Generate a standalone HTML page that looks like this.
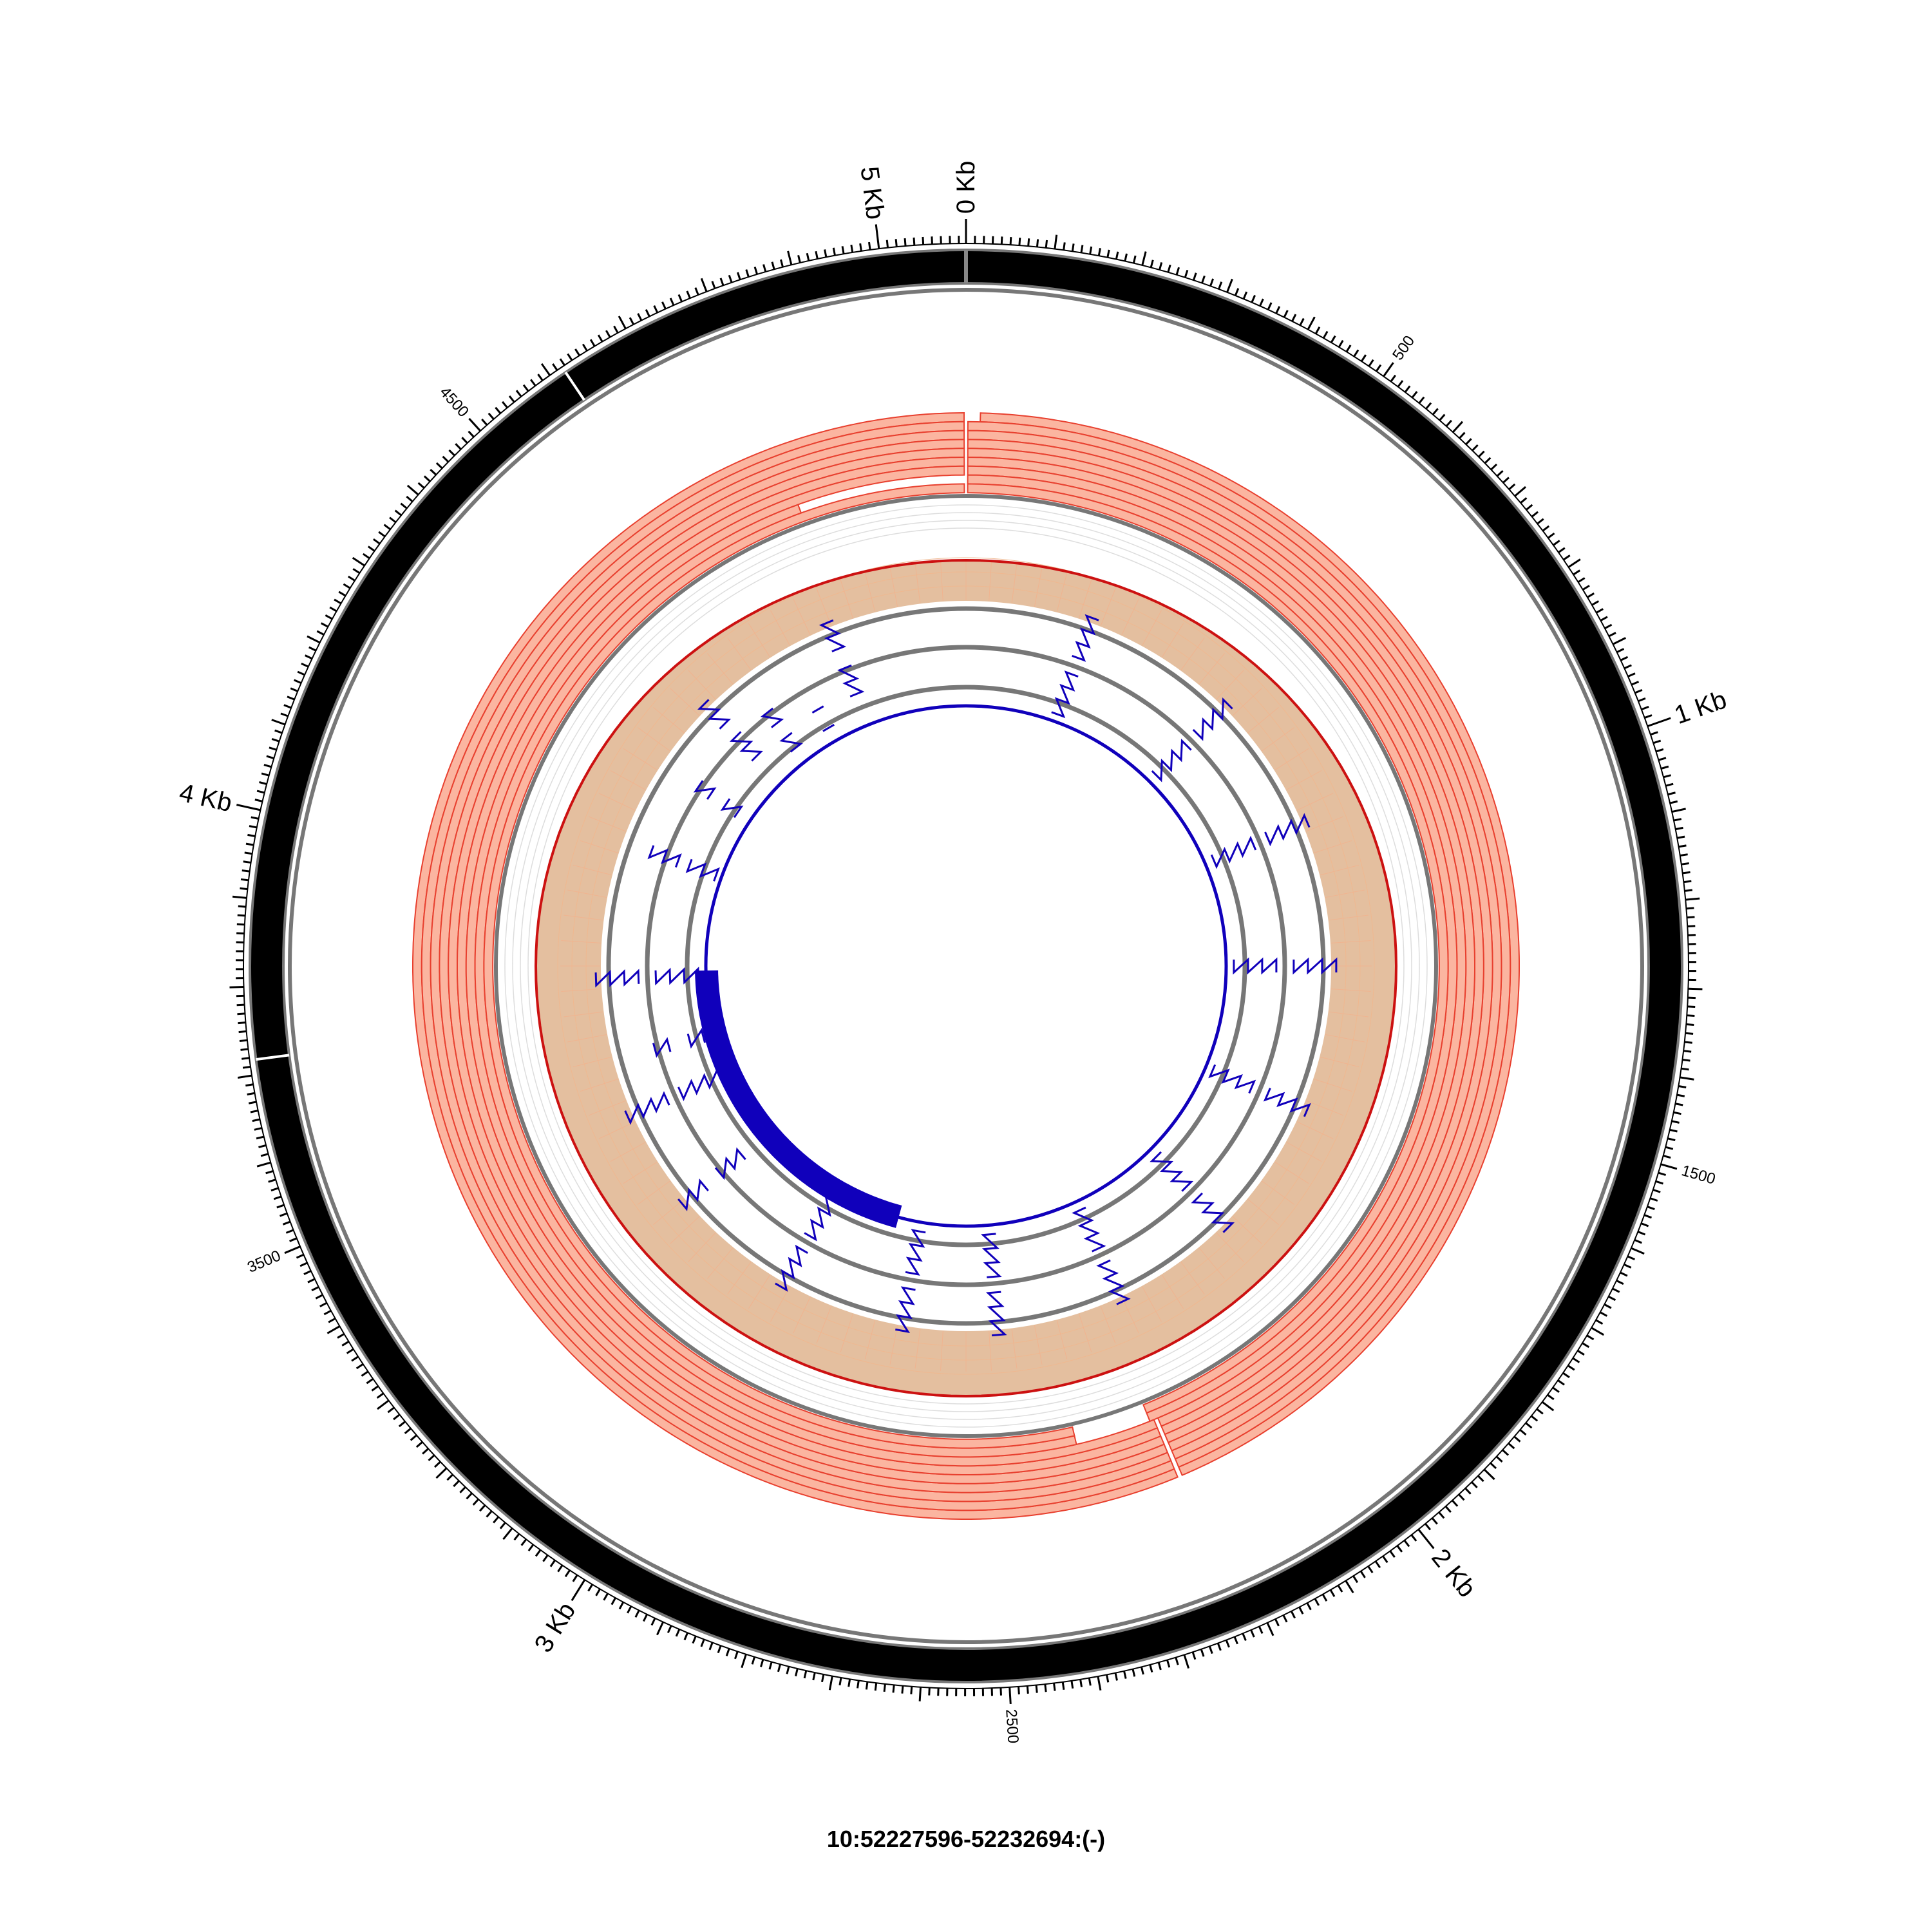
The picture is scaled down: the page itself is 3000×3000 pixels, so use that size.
<!DOCTYPE html>
<html><head><meta charset="utf-8"><style>
html,body{margin:0;padding:0;background:#fff;}
svg{display:block;}
</style></head><body>
<svg id="s" xmlns="http://www.w3.org/2000/svg" width="3000" height="3000" viewBox="0 0 3000 3000">
<rect width="3000" height="3000" fill="#fff"/>
<g id="g"></g>
<text x="1500" y="2868" text-anchor="middle" font-family="Liberation Sans Narrow, Liberation Sans, sans-serif" font-weight="bold" font-size="36" fill="#000">10:52227596-52232694:(-)</text>
</svg>
<script>
const C=1500,L=5098;
const g=document.getElementById('g');let out='';
function P(r,a){const t=a*Math.PI/180;return [C+r*Math.sin(t),C-r*Math.cos(t)];}
function arc(r1,r2,a1,a2){const n=Math.max(2,Math.ceil((a2-a1)/0.5));let p=[];
for(let i=0;i<=n;i++)p.push(P(r2,a1+(a2-a1)*i/n));for(let i=n;i>=0;i--)p.push(P(r1,a1+(a2-a1)*i/n));
return 'M'+p.map(q=>q[0].toFixed(1)+','+q[1].toFixed(1)).join('L')+'Z';}
function circ(r,st,w,f){out+=`<circle cx="${C}" cy="${C}" r="${r}" fill="${f||'none'}" stroke="${st}" stroke-width="${w}"/>`;}
function ln(r1,r2,a,st,w){const p=P(r1,a),q=P(r2,a);out+=`<line x1="${p[0]}" y1="${p[1]}" x2="${q[0]}" y2="${q[1]}" stroke="${st}" stroke-width="${w}"/>`;}
circ(1086,'#000',52);circ(1112,'#777',4);circ(1060,'#777',4);circ(1050,'#777',6);
ln(1060,1112,0,'#888',6);ln(1060,1112,326,'#fff',4);ln(1060,1112,262.5,'#fff',4);
circ(1122,'#000',2);
for(let b=0;b<L;b+=10){const a=b/L*360;let l=12;if(b%1000==0)l=38;else if(b%500==0)l=26;else if(b%100==0)l=22;ln(1122,1122+l,a,'#000',3);}
function lab(txt,a,r,fs){const p=P(r,a);let rot,anc;if(a<=180){rot=a-90;anc='start';}else{rot=a+90;anc='end';}
out+=`<text x="${p[0]}" y="${p[1]}" transform="rotate(${rot} ${p[0]} ${p[1]})" text-anchor="${anc}" dominant-baseline="central" font-family="Liberation Sans, sans-serif" font-size="${fs}" fill="#000">${txt}</text>`;}
for(let k=0;k<=5;k++)lab(k+' Kb',k*1000/L*360,1168,40);
for(const b of [500,1500,2500,3500,4500])lab(b,b/L*360,1156,24);
const rw=13.8,rt=859;
function row(i,a1,a2){out+=`<path d="${arc(rt-rw*(i+1),rt-rw*i,a1,a2)}" fill="#fbb5a0" stroke="#e8402f" stroke-width="2"/>`;}
for(let i=0;i<9;i++){row(i,i==0?1.5:0.2,i>=7?158:157);}
for(let i=0;i<9;i++){if(i==7){row(i,167,340);continue;}row(i,i>=7?167:157.5,359.8);}
circ(730,'#777',6);
for(let r=680;r<728;r+=12)circ(r,'#ddd',1.5);
let pts=[];for(let a=0;a<=360;a+=2){const c=Math.cos(a*Math.PI/180);let r=668-38*Math.pow(Math.max(0,c),2);pts.push([a,r]);}
let d='M'+pts.map(q=>P(q[1],q[0]).map(v=>v.toFixed(1)).join(',')).join('L')+'Z';
let hole=`M${C-567},${C}a567,567 0 1,0 1134,0a567,567 0 1,0 -1134,0Z`;
out+=`<path d="${d}${hole}" fill="#e4bf9f" fill-rule="evenodd"/>`;
for(let r=590;r<640;r+=22)circ(r,'#efb890',1);
for(let a=0;a<360;a+=3.6)ln(568,630,a,'#f0b490',1);
out+=`<path d="${d}" fill="none" stroke="#cc1111" stroke-width="4"/>`;
circ(555,'#777',7);circ(495,'#777',7);circ(433,'#777',7);
circ(404,'#1000bb',5);
out+=`<path d="${arc(385,421,195,269)}" fill="#1000bb"/>`;
function saw(a,r1,r2){
 const step=22,w=20;let s='';let r=r1;let first=true;
 while(r>r2-1){const t=w/r*180/Math.PI;const p=P(r,a+t/2),q=P(r,a-t/2);
  s+=(first?'M':'L')+p[0].toFixed(1)+','+p[1].toFixed(1)+'L'+q[0].toFixed(1)+','+q[1].toFixed(1);first=false;r-=step;}
 out+=`<path d="${s}" fill="none" stroke="#1000bb" stroke-width="3"/>`;}
function zig(a,ro,ri){const m=(ro+ri)/2;saw(a,ro,m+8);saw(a,m-8,ri);}
const Z=[[338,575,440],[330,460,410],[20,575,405],[45,575,410],[67,575,410],[90,575,405],[113,575,405],[135,575,410],[155,575,410],[175,575,410],[190,575,410],[210,575,410],[230,575,440],[246,575,410],[268,575,405],[290,520,410],[304,500,415],[315,575,450],[322,500,420],[255,500,405]];
for(const z of Z)zig(z[0],z[1],z[2]);
g.innerHTML=out;
</script>
</body></html>
